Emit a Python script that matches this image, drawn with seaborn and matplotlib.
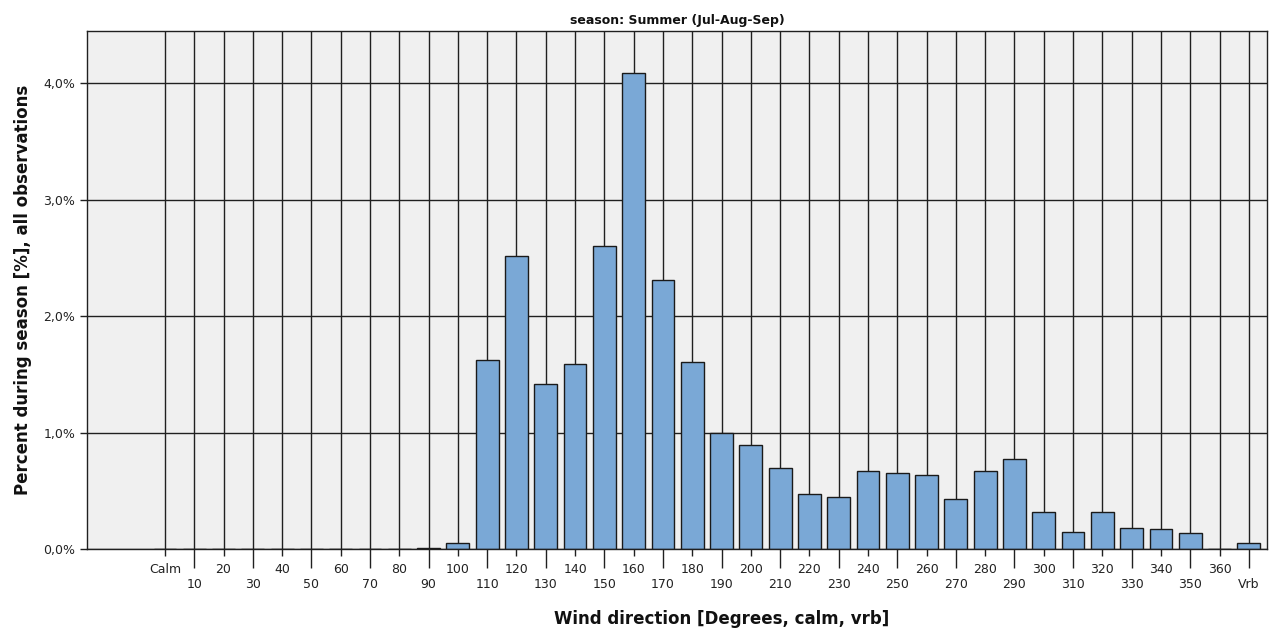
import matplotlib
matplotlib.use('Agg')
import matplotlib.pyplot as plt
import seaborn as sns
import pandas as pd

directions = ['Calm'] + [str(d) for d in range(10, 370, 10)] + ['Vrb']
percent = [0.0, 0.0, 0.0, 0.0, 0.0, 0.0, 0.0, 0.0, 0.0, 0.01, 0.05,
           1.62, 2.52, 1.42, 1.59, 2.60, 4.09, 2.31, 1.61, 1.00, 0.89,
           0.70, 0.47, 0.45, 0.67, 0.65, 0.64, 0.43, 0.67, 0.77, 0.32,
           0.15, 0.32, 0.18, 0.17, 0.14, 0.0, 0.05]
df = pd.DataFrame({'direction': directions, 'percent': percent})

sns.set_style('ticks')
plt.rcParams['font.family'] = ['DejaVu Sans']

fig = plt.figure(figsize=(12.74, 6.35), dpi=100)
ax = fig.add_axes([0.0683, 0.1354, 0.9262, 0.8158])
ax.set_facecolor('#f0f0f0')

sns.barplot(data=df, x='direction', y='percent', order=directions,
            color='#7aa8d6', saturation=1, width=0.78,
            edgecolor='#1a1a1a', linewidth=1.0, ax=ax)

n = len(directions)
ax.set_xlim(-2.66, n - 1 + 0.62)
ax.set_ylim(0, 4.45)

even = list(range(0, n, 2))
odd = list(range(1, n, 2))
ax.set_xticks(even)
ax.set_xticklabels([directions[i] for i in even])
ax.set_xticks(odd, minor=True)
ax.set_xticklabels([directions[i] for i in odd], minor=True)
ax.tick_params(axis='x', which='major', length=5, width=1, pad=5,
               labelsize=9, color='#202020', labelcolor='#222222')
ax.tick_params(axis='x', which='minor', length=14, width=1, pad=7,
               labelsize=9, color='#202020', labelcolor='#222222')

ax.set_yticks([0, 1, 2, 3, 4])
ax.set_yticklabels(['0,0%', '1,0%', '2,0%', '3,0%', '4,0%'])
ax.tick_params(axis='y', length=5, width=1, labelsize=9, color='#202020',
               labelcolor='#222222')

# grid after barplot (seaborn switches off the categorical grid)
ax.set_axisbelow(True)
ax.xaxis.grid(True, which='major', color='#202020', linewidth=1.0)
ax.xaxis.grid(True, which='minor', color='#202020', linewidth=1.0)
ax.yaxis.grid(True, which='major', color='#202020', linewidth=1.0)

for s in ax.spines.values():
    s.set_color('#202020')
    s.set_linewidth(1.0)

ax.set_xlabel('Wind direction [Degrees, calm, vrb]', fontsize=12,
              fontweight='bold', color='#111111')
ax.xaxis.set_label_coords(0.538, -0.118)
ax.set_ylabel('Percent during season [%], all observations', fontsize=12,
              fontweight='bold', labelpad=8, color='#111111')
ax.set_title('season: Summer (Jul-Aug-Sep)', fontsize=9, fontweight='bold',
             pad=5, color='#111111')

fig.savefig('out.png', dpi=100)
